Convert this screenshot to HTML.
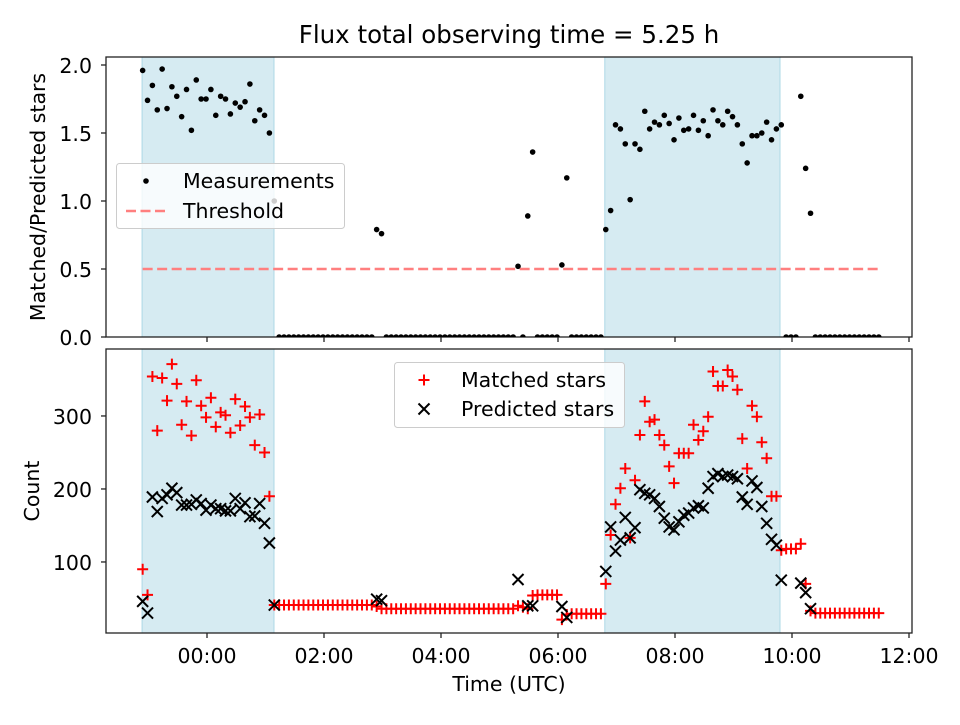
<!DOCTYPE html>
<html><head><meta charset="utf-8"><style>
body{margin:0;background:#fff;}
svg text{font-family:"DejaVu Sans","Liberation Sans",sans-serif;fill:#000;}
</style></head><body>
<svg id="chart" width="960" height="720" xmlns="http://www.w3.org/2000/svg">
<defs>
<clipPath id="clipTop"><rect x="106" y="57" width="806" height="280"/></clipPath>
<clipPath id="clipBot"><rect x="106" y="349" width="806" height="284"/></clipPath>
</defs>
<rect width="960" height="720" fill="#fff"/>
<text x="509" y="43" font-size="24.5" text-anchor="middle">Flux total observing time = 5.25 h</text>
<g id="top"></g>
<g id="bot"></g>
<text transform="translate(45,197) rotate(-90)" font-size="20.5" text-anchor="middle">Matched/Predicted stars</text>
<text transform="translate(39,491) rotate(-90)" font-size="20.5" text-anchor="middle">Count</text>
<text x="509" y="691" font-size="20.5" text-anchor="middle">Time (UTC)</text>
</svg>
<script>
const t0 = -1.1;
const stepHours = 5/60;
const ratio = [1.96,1.74,1.85,1.67,1.97,1.68,1.84,1.77,1.62,1.82,1.52,1.89,1.75,1.75,1.82,1.63,1.77,1.75,1.64,1.72,1.69,1.73,1.86,1.59,1.67,1.63,1.50,1.00,
0,0,0,0,0,0,0,0,0,0,0,0,0,0,0,0,0,0,0,0,
0.79,0.76,
0,0,0,0,0,0,0,0,0,0,0,0,0,0,0,0,0,0,0,0,0,0,0,0,0,0,0,
0.52,0,0.89,1.36,
0,0,0,0,0,
0.53,1.17,
0,0,0,0,0,0,0,
0.79,0.93,1.56,1.53,1.42,1.01,1.42,1.38,1.66,1.53,1.58,1.56,1.63,1.57,1.45,1.61,1.52,1.53,1.63,1.52,1.59,1.48,1.67,1.59,1.56,1.66,1.62,1.56,1.42,1.28,1.48,1.48,1.50,1.58,1.45,1.53,1.56,
0,0,0,
1.77,1.24,0.91,
0,0,0,0,0,0,0,0,0,0,0,0,0,0];
const matched = [90,55,354,280,352,321,371,344,288,320,273,349,314,298,325,285,305,301,277,323,287,313,298,260,302,250,190,41,
41,41,41,41,41,41,41,41,41,41,41,41,41,41,41,41,41,41,41,41,
39,36,
36,36,36,36,36,36,36,36,36,36,36,36,36,36,36,36,36,36,36,36,36,36,36,36,36,36,36,
40,38,36,54,
55,55,55,55,55,
21,28,
29,29,29,29,29,29,29,
70,137,179,201,228,133,212,274,320,292,295,274,260,231,208,249,249,249,288,267,279,299,361,341,341,363,354,336,269,228,314,299,264,242,190,190,116,
118,118,118,
125,70,33,
30,30,30,30,30,30,30,30,30,30,30,30,30,30];
const predicted = [46,30,189,169,187,192,201,195,178,178,179,185,180,171,178,173,173,170,170,187,173,181,162,163,180,153,126,41,
0,0,0,0,0,0,0,0,0,0,0,0,0,0,0,0,0,0,0,0,
49,47,
0,0,0,0,0,0,0,0,0,0,0,0,0,0,0,0,0,0,0,0,0,0,0,0,0,0,0,
76,0,40,40,
0,0,0,0,0,
39,24,
0,0,0,0,0,0,0,
87,148,115,130,161,133,147,199,194,192,187,176,160,148,144,155,164,167,174,177,174,201,217,221,217,219,217,214,189,179,211,202,176,153,131,123,75,
0,0,0,
71,58,36,
0,0,0,0,0,0,0,0,0,0,0,0,0,0];
const threshold = 0.5;
const spans = [[-1.11,1.145],[6.80,9.795]];
const xTicks = [0,2,4,6,8,10,12];
const xTickLabels = ["00:00","02:00","04:00","06:00","08:00","10:00","12:00"];
const yTicksTop = [0,0.5,1.0,1.5,2.0];
const yTickLabelsTop = ["0.0","0.5","1.0","1.5","2.0"];
const yTicksBot = [100,200,300];
const yTickLabelsBot = ["100","200","300"];
const countMin = 2.7;

const NS="http://www.w3.org/2000/svg";
function mk(parent,tag,attrs){const e=document.createElementNS(NS,tag);for(const k in attrs)e.setAttribute(k,attrs[k]);parent.appendChild(e);return e;}
const X=h=>207+h*58.5;
const YT=v=>337-v*136;
const YB=v=>633-(v-countMin)*0.73;
const times = ratio.map((_,i)=>t0+i*stepHours);
const FS=20.5;
const DASH='10,4.5';

function panel(g,top,bot,Y,yt,ytl,clip,showXLabels,name){
  const bg=mk(g,'g',{});
  spans.forEach(s=>{
    const r=mk(bg,'rect',{x:X(s[0]),y:top,width:X(s[1])-X(s[0]),height:bot-top,fill:'#add8e6','fill-opacity':0.5,stroke:'#add8e6','stroke-width':1});
    
    
  });
  mk(g,'rect',{x:106,y:top,width:806,height:bot-top,fill:'none',stroke:'#222','stroke-width':1.3});
  xTicks.forEach((t,i)=>{
    mk(g,'line',{x1:X(t),x2:X(t),y1:bot,y2:bot+5,stroke:'#222','stroke-width':1.3});
    if(showXLabels){const tx=mk(g,'text',{x:X(t),y:bot+30,'font-size':FS,'text-anchor':'middle'});tx.textContent=xTickLabels[i];
      
      }
  });
  yt.forEach((v,i)=>{
    mk(g,'line',{x1:101,x2:106,y1:Y(v),y2:Y(v),stroke:'#222','stroke-width':1.3});
    const tx=mk(g,'text',{x:92,y:Y(v)+8,'font-size':FS,'text-anchor':'end'});tx.textContent=ytl[i];
    
    
  });
  return mk(g,'g',{'clip-path':'url(#'+clip+')'});
}

// top panel
const gt=document.getElementById('top');
const ct=panel(gt,57,337,YT,yTicksTop,yTickLabelsTop,'clipTop',false,'ratio');
const th=mk(ct,'line',{x1:X(times[0]),x2:X(times[times.length-1]),y1:YT(threshold),y2:YT(threshold),stroke:'#ff7f7f','stroke-width':2.5,'stroke-dasharray':DASH});


ratio.forEach((v,i)=>{
  if(v===null)return;
  const c=mk(ct,'circle',{cx:X(times[i]),cy:YT(v),r:2.8,fill:'#000'});
  
  
});
// top legend
const lt=mk(gt,'g',{});


mk(lt,'rect',{x:116.5,y:163.5,width:228,height:65,rx:3,fill:'#fff','fill-opacity':0.8,stroke:'#ccc'});
mk(lt,'circle',{cx:146,cy:181,r:2.8,fill:'#000'});
let tt=mk(lt,'text',{x:183,y:188,'font-size':FS});tt.textContent='Measurements';
mk(lt,'line',{x1:126,x2:166,y1:211,y2:211,stroke:'#ff7f7f','stroke-width':2.5,'stroke-dasharray':DASH});
tt=mk(lt,'text',{x:183,y:218,'font-size':FS});tt.textContent='Threshold';

// bottom panel
const gb=document.getElementById('bot');
const cb=panel(gb,349,633,YB,yTicksBot,yTickLabelsBot,'clipBot',true,'count');
function plus(p,x,y,col){mk(p,'path',{d:`M${x-5.5} ${y}H${x+5.5}M${x} ${y-5.5}V${y+5.5}`,stroke:col,'stroke-width':2,fill:'none'});}
function cross(p,x,y,col){mk(p,'path',{d:`M${x-5.5} ${y-5.5}L${x+5.5} ${y+5.5}M${x-5.5} ${y+5.5}L${x+5.5} ${y-5.5}`,stroke:col,'stroke-width':2,fill:'none'});}
matched.forEach((v,i)=>{
  if(v===null||v<countMin)return;
  const g=mk(cb,'g',{});
  
  
  plus(g,X(times[i]),YB(v),'#ff0000');
});
predicted.forEach((v,i)=>{
  if(v===null||v<countMin)return;
  const g=mk(cb,'g',{});
  
  
  cross(g,X(times[i]),YB(v),'#000');
});
const lb=mk(gb,'g',{});


mk(lb,'rect',{x:394.5,y:362.5,width:230,height:65,rx:3,fill:'#fff','fill-opacity':0.8,stroke:'#ccc'});
plus(lb,424,380,'#ff0000');
tt=mk(lb,'text',{x:461,y:387,'font-size':FS});tt.textContent='Matched stars';
cross(lb,424,409,'#000');
tt=mk(lb,'text',{x:461,y:416,'font-size':FS});tt.textContent='Predicted stars';
</script>
</body></html>
